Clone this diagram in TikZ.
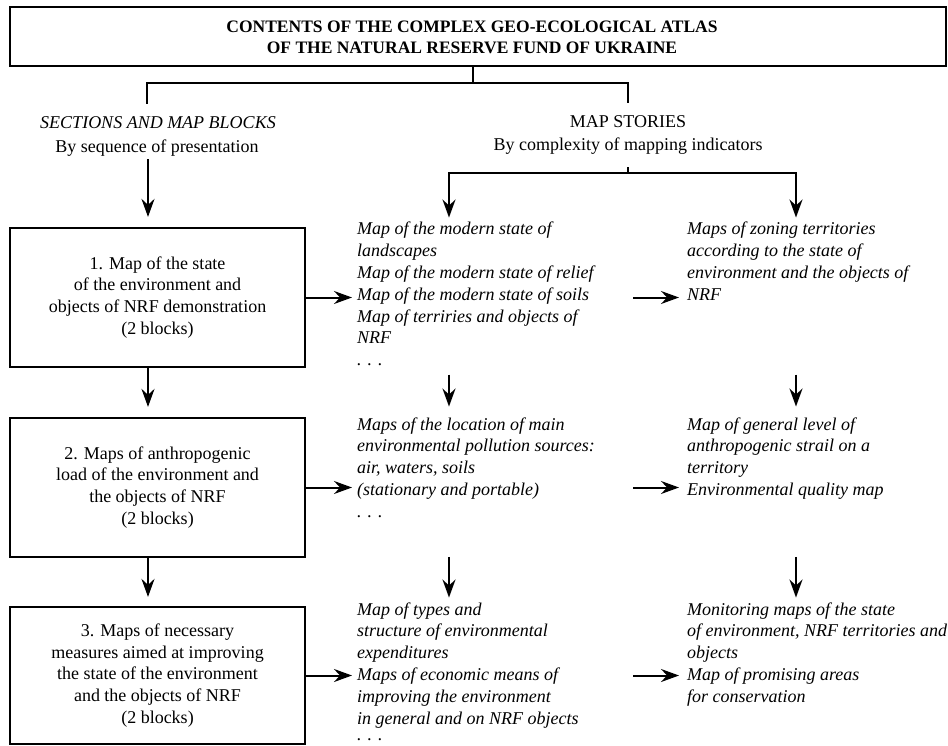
\documentclass[tikz,border=0pt]{standalone}
\usepackage{fontspec}
\setmainfont{Liberation Serif}
\usetikzlibrary{arrows.meta,calc}
\newcommand\blkL[1]{\begin{tabular}[t]{@{}l@{}}#1\end{tabular}}
\newcommand\blkC[1]{\begin{tabular}[t]{@{}c@{}}#1\end{tabular}}
\renewcommand\arraystretch{1}
\begin{document}
\begin{tikzpicture}[x=1pt,y=-1pt,
  every node/.style={font=\fontsize{18}{21.8}\selectfont, inner sep=2pt},
  it/.style={font=\fontsize{18}{21.8}\selectfont\itshape},
  titlefont/.style={font=\fontsize{17.5}{21}\selectfont\bfseries},
  box/.style={draw, line width=2.2pt},
  blockL/.style={anchor=base west, it},
  line/.style={line width=2pt},
  arr/.style={line width=2pt, -{Stealth[length=18pt,width=13pt,inset=6pt]}}]
\useasboundingbox (0,0) rectangle (948,746);

% title
\node[box, minimum width=936pt, minimum height=59pt] (tbox) at (478,36.5) {};
\node[titlefont, anchor=base] (title) at (472,33)
  {\blkC{CONTENTS OF THE COMPLEX GEO-ECOLOGICAL ATLAS\\OF THE NATURAL RESERVE FUND OF UKRAINE}};

% column labels
\node[it, anchor=base] (secA) at (158,129) {SECTIONS AND MAP BLOCKS};
\node[anchor=base] (byseq) at (157,153) {By sequence of presentation};
\node[anchor=base] (mapst) at (628,128) {MAP STORIES};
\node[anchor=base] (bycomp) at (628,151) {By complexity of mapping indicators};

% column x coordinates
\coordinate (cA) at (148,0);
\coordinate (cM) at (449,0);
\coordinate (cR) at (796,0);
\coordinate (tj) at (473,83);
\coordinate (bl) at (147,104);
\coordinate (br) at (628,103);
\coordinate (hy) at (628,173);

% boxes
\node[box, minimum width=295pt, minimum height=139pt] (b1) at (157.5,297.5)
  {\blkC{1. Map of the state\\of the environment and\\objects of NRF demonstration\\(2 blocks)}};
\node[box, minimum width=295pt, minimum height=139pt] (b2) at (157.5,487.5)
  {\blkC{2. Maps of anthropogenic\\load of the environment and\\the objects of NRF\\(2 blocks)}};
\node[box, minimum width=295pt, minimum height=137pt] (b3) at (157.5,675.5)
  {\blkC{3. Maps of necessary\\measures aimed at improving\\the state of the environment\\and the objects of NRF\\(2 blocks)}};

% middle column
\node[blockL] (m1) at (355,235)
  {\blkL{Map of the modern state of\\landscapes\\Map of the modern state of relief\\Map of the modern state of soils\\Map of terriries and objects of\\NRF\\. . .}};
\node[blockL] (m2) at (355,430)
  {\blkL{Maps of the location of main\\environmental pollution sources:\\air, waters, soils\\(stationary and portable)\\. . .}};
\node[blockL] (m3) at (355,615)
  {\blkL{Map of types and\\structure of environmental\\expenditures\\Maps of economic means of\\improving the environment\\in general and on NRF objects\\[-5pt]. . .}};

% right column
\node[blockL] (r1) at (685,235)
  {\blkL{Maps of zoning territories\\according to the state of\\environment and the objects of\\NRF}};
\node[blockL] (r2) at (685,430)
  {\blkL{Map of general level of\\anthropogenic strail on a\\territory\\Environmental quality map}};
\node[blockL] (r3) at (685,615)
  {\blkL{Monitoring maps of the state\\of environment, NRF territories and\\objects\\Map of promising areas\\for conservation}};

% title connectors
\draw[line] (tbox.south -| tj) -- (tj);
\draw[line] (bl) |- (tj) -| (br);

% left column arrows
\draw[arr, shorten >=10pt] (byseq.south -| cA) -- (b1.north -| cA);
\draw[arr, shorten >=10pt] (b1.south -| cA) -- (b2.north -| cA);
\draw[arr, shorten >=9pt] (b2.south -| cA) -- (b3.north -| cA);

% map stories branch
\draw[line, shorten <=10pt] (bycomp.south) -- (hy);
\draw[arr] (hy) -| (m1.north -| cM);
\draw[arr] (hy) -| (r1.north -| cR);

% vertical arrows middle and right
\draw[arr, shorten >=6pt] (m1.south -| cM) -- (m2.north -| cM);
\draw[arr, shorten >=6pt] (cR |- m1.south) -- (cR |- m2.north);
\draw[arr, shorten <=31pt] (m2.south -| cM) -- (m3.north -| cM);
\draw[arr, shorten <=31pt] (cR |- m2.south) -- (cR |- m3.north);

% horizontal arrows
\draw[arr, shorten >=3pt] (b1.east) -- (b1.east -| m1.west);
\draw[arr, shorten >=3pt] (b2.east) -- (b2.east -| m2.west);
\draw[arr, shorten >=3pt] (b3.east) -- (b3.east -| m3.west);
\draw[arr, shorten >=6pt] ($(b1.east -| r1.west)+(-52,0)$) -- (b1.east -| r1.west);
\draw[arr, shorten >=6pt] ($(b2.east -| r2.west)+(-52,0)$) -- (b2.east -| r2.west);
\draw[arr, shorten >=6pt] ($(b3.east -| r3.west)+(-52,0)$) -- (b3.east -| r3.west);
\end{tikzpicture}
\end{document}
